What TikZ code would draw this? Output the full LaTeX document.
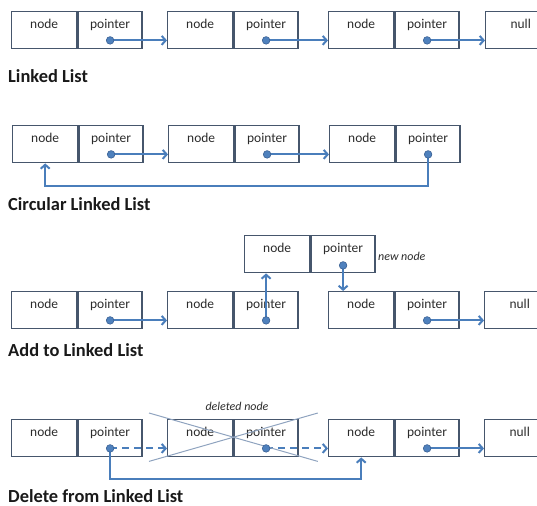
\documentclass[tikz,border=0pt]{standalone}
\usepackage{fontspec}
\setmainfont{Carlito}
\usetikzlibrary{arrows.meta,calc}
\definecolor{boxc}{HTML}{46566C}
\definecolor{arrc}{HTML}{4A7EBB}
\definecolor{dotc}{HTML}{4F81BD}
\definecolor{dotl}{HTML}{3A6194}
\definecolor{crossc}{HTML}{8FA3BF}
\definecolor{txtc}{HTML}{2B2B2B}
\begin{document}
\begin{tikzpicture}[x=1bp,y=-1bp,
  cell/.style={draw=boxc, line width=1.4bp, minimum height=37bp, inner sep=0pt,
    anchor=north west, font=\fontsize{13.5}{13.5}\selectfont, text=txtc,
    text height=9bp, text depth=12.5bp},
  ncell/.style={cell, minimum width=65bp},
  pcell/.style={cell, minimum width=64bp},
  nullcell/.style={cell, minimum width=70bp},
  arr/.style={draw=arrc, line width=2bp, -{Straight Barb[length=4bp,width=9bp]}},
  darr/.style={arr, dash pattern=on 7bp off 5bp},
  ptr/.style={fill=dotc, draw=dotl, line width=0.6bp},
  crossline/.style={draw=crossc, line width=1bp},
  lbl/.style={anchor=base west, inner sep=0pt, text=black!90,
    font=\bfseries\fontsize{18.5}{18.5}\selectfont},
  note/.style={inner sep=0pt, text=txtc, font=\itshape\fontsize{12}{12}\selectfont}
]
\useasboundingbox (0,0) rectangle (537,506);

% ---------- Row 1: Linked List ----------
\node[ncell] (r1a) at (11,11) {node};
\node[pcell] (r1ap) at (r1a.north east) {pointer};
\node[ncell] (r1b) at (167,11) {node};
\node[pcell] (r1bp) at (r1b.north east) {pointer};
\node[ncell] (r1c) at (328,11) {node};
\node[pcell] (r1cp) at (r1c.north east) {pointer};
\node[nullcell] (r1n) at (485,11) {null\hspace{20bp}};
\coordinate (r1ad) at ([yshift=9bp]r1ap.south);
\coordinate (r1bd) at ([yshift=9bp]r1bp.south);
\coordinate (r1cd) at ([yshift=9bp]r1cp.south);
\draw[arr] (r1ad) -- (r1ad -| r1b.west);
\draw[arr] (r1bd) -- (r1bd -| r1c.west);
\draw[arr] (r1cd) -- (r1cd -| r1n.west);
\foreach \d in {r1ad,r1bd,r1cd} \path[ptr] (\d) circle (3.8bp);
\node[lbl] (t1) at (8,83) {Linked List};

% ---------- Row 2: Circular Linked List ----------
\node[ncell] (r2a) at (12,125) {node};
\node[pcell] (r2ap) at (r2a.north east) {pointer};
\node[ncell] (r2b) at (168,125) {node};
\node[pcell] (r2bp) at (r2b.north east) {pointer};
\node[ncell] (r2c) at (329,125) {node};
\node[pcell] (r2cp) at (r2c.north east) {pointer};
\coordinate (r2ad) at ([yshift=9bp]r2ap.south);
\coordinate (r2bd) at ([yshift=9bp]r2bp.south);
\coordinate (r2cd) at ([yshift=9bp]r2cp.south);
\draw[arr] (r2ad) -- (r2ad -| r2b.west);
\draw[arr] (r2bd) -- (r2bd -| r2c.west);
\draw[arr] (r2cd) |- ([yshift=-23bp]r2a.south) -- (r2a.south);
\foreach \d in {r2ad,r2bd,r2cd} \path[ptr] (\d) circle (3.8bp);
\node[lbl] (t2) at (8,211) {Circular Linked List};

% ---------- Row 3: Add to Linked List ----------
\node[ncell] (r3a) at (11,291) {node};
\node[pcell] (r3ap) at (r3a.north east) {pointer};
\node[ncell] (r3b) at (167,291) {node};
\node[pcell] (r3bp) at (r3b.north east) {pointer};
\node[ncell] (r3c) at (328,291) {node};
\node[pcell] (r3cp) at (r3c.north east) {pointer};
\node[nullcell] (r3n) at (484,291) {null\hspace{20bp}};
\node[ncell] (r3x) at (244,235) {node};
\node[pcell] (r3xp) at (r3x.north east) {pointer};
\node[note, anchor=base west] (nn) at (378,260) {new node};
\coordinate (r3ad) at ([yshift=9bp]r3ap.south);
\coordinate (r3bd) at ([yshift=9bp]r3bp.south);
\coordinate (r3cd) at ([yshift=9bp]r3cp.south);
\coordinate (r3xd) at ([yshift=8bp]r3xp.south);
\draw[arr] (r3ad) -- (r3ad -| r3b.west);
\draw[arr] (r3bd) -- (r3bd |- r3x.south);
\draw[arr] (r3xd) -- (r3xd |- r3c.north);
\draw[arr] (r3cd) -- (r3cd -| r3n.west);
\foreach \d in {r3ad,r3bd,r3cd,r3xd} \path[ptr] (\d) circle (3.8bp);
\node[lbl] (t3) at (8,356) {Add to Linked List};

% ---------- Row 4: Delete from Linked List ----------
\node[ncell] (r4a) at (11,419) {node};
\node[pcell] (r4ap) at (r4a.north east) {pointer};
\node[ncell] (r4b) at (167,419) {node};
\node[pcell] (r4bp) at (r4b.north east) {pointer};
\node[ncell] (r4c) at (328,419) {node};
\node[pcell] (r4cp) at (r4c.north east) {pointer};
\node[nullcell] (r4n) at (484,419) {null\hspace{20bp}};
\node[note, anchor=base] (dn) at (237,410) {deleted node};
\coordinate (r4ad) at ([yshift=9bp]r4ap.south);
\coordinate (r4bd) at ([yshift=9bp]r4bp.south);
\coordinate (r4cd) at ([yshift=9bp]r4cp.south);
\draw[darr] (r4ad) -- (r4ad -| r4b.west);
\draw[darr] (r4bd) -- (r4bd -| r4c.west);
\draw[arr] (r4cd) -- (r4cd -| r4n.west);
\draw[arr] (r4ad) |- ([yshift=-22bp]r4c.south) -- (r4c.south);
\draw[crossline] ($(r4b.north west)+(-18,-6)$) -- ($(r4bp.south east)+(19,4)$);
\draw[crossline] ($(r4b.south west)+(-18,4)$) -- ($(r4bp.north east)+(19,-6)$);
\foreach \d in {r4ad,r4bd,r4cd} \path[ptr] (\d) circle (3.8bp);
\node[lbl] (t4) at (8,502) {Delete from Linked List};
\end{tikzpicture}
\end{document}
